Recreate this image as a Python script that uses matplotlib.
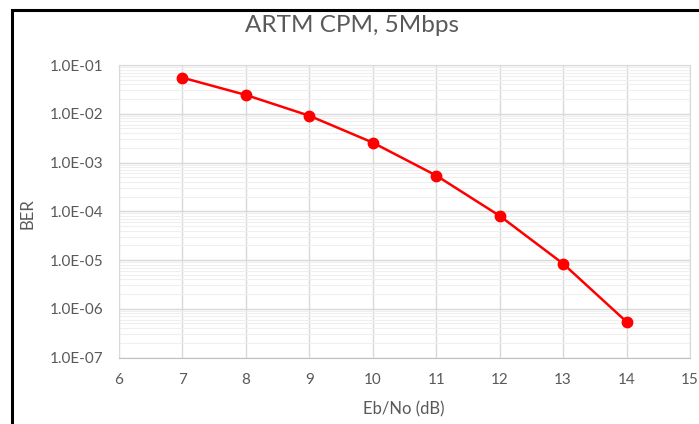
import numpy as np
import matplotlib
matplotlib.use('Agg')
import matplotlib.pyplot as plt
from matplotlib.ticker import FixedLocator, LogLocator, NullFormatter, FuncFormatter
from matplotlib.patches import Rectangle

# 数据
ebno = [7, 8, 9, 10, 11, 12, 13, 14]
ber = [5.5e-2, 2.43e-2, 9.1e-3, 2.56e-3, 5.4e-4, 8.05e-5, 8.4e-6, 5.4e-7]
x_ticks = [6, 7, 8, 9, 10, 11, 12, 13, 14, 15]
y_ticks = [1e-7, 1e-6, 1e-5, 1e-4, 1e-3, 1e-2, 1e-1]

plt.rcParams['font.family'] = ['Lato', 'DejaVu Sans']
grey_txt = '#595959'

fig = plt.figure(figsize=(6.99, 4.24), dpi=100)
ax = fig.add_axes([119 / 699, 1 - 357.5 / 424, (690 - 119) / 699, (357.5 - 65) / 424])

# 黑色外框 (只露出左边和上边)
fig.patches.append(Rectangle((12 / 699, -0.2), 1.2, 1 - 9.5 / 424 + 0.2,
                             transform=fig.transFigure, fill=False,
                             edgecolor='black', linewidth=2.2, zorder=10))

ax.plot(ebno, ber, color='#ff0000', linewidth=1.8, marker='o',
        markersize=7.5, zorder=5)

ax.set_yscale('log')
ax.set_xlim(6, 15)
ax.set_ylim(1e-7, 1e-1)
ax.xaxis.set_major_locator(FixedLocator(x_ticks))
ax.yaxis.set_major_locator(FixedLocator(y_ticks))
ax.yaxis.set_minor_locator(LogLocator(base=10, subs=np.arange(2, 10)))
ax.yaxis.set_minor_formatter(NullFormatter())
ax.yaxis.set_major_formatter(FuncFormatter(lambda v, p: '1.0E-%02d' % round(-np.log10(v))))

ax.grid(True, which='major', color='#d9d9d9', linewidth=1.0)
ax.grid(True, which='minor', axis='y', color='#efefef', linewidth=0.8)
ax.set_axisbelow(True)
for s in ax.spines.values():
    s.set_color('#d9d9d9')
ax.spines['bottom'].set_color('#bfbfbf')
ax.tick_params(which='both', length=0, colors=grey_txt, labelsize=11)
ax.tick_params(axis='x', pad=11)
ax.tick_params(axis='y', pad=11.5)

fig.text(0.503, 1 - 25 / 424, 'ARTM CPM, 5Mbps', ha='center', va='center',
         fontsize=17.5, color=grey_txt)
fig.text(404 / 699, 1 - 409 / 424, 'Eb/No (dB)', ha='center', va='center',
         fontsize=12, color=grey_txt)
fig.text(27 / 699, 1 - 214 / 424, 'BER', rotation=90, ha='center', va='center',
         fontsize=12, color=grey_txt)

fig.savefig('out.png', dpi=100)
